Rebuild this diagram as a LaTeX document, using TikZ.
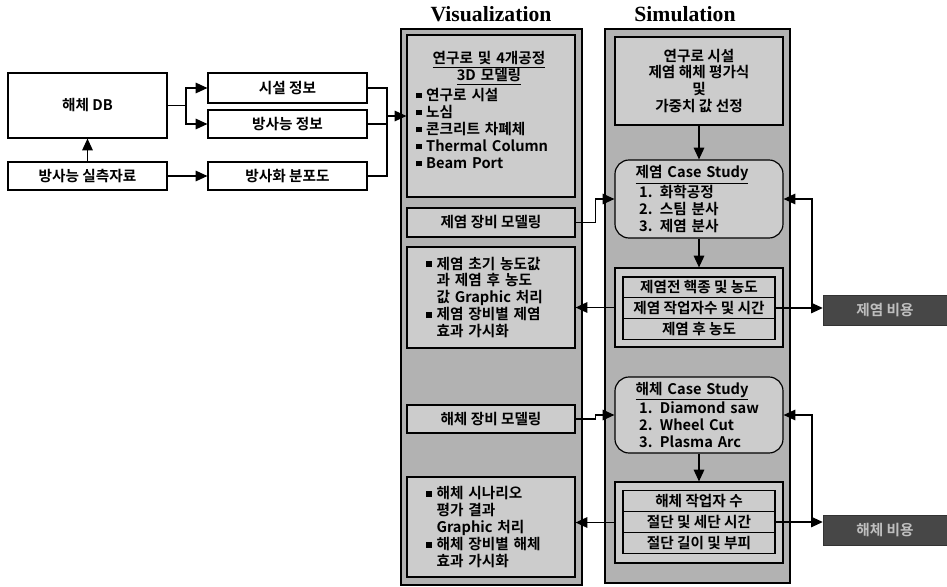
\documentclass[tikz,border=0pt]{standalone}
\usepackage{fontspec}
\newfontfamily\kr{Noto Sans CJK KR Bold}
\newfontfamily\titfont{Liberation Serif}
\usetikzlibrary{arrows.meta}
\newcommand\blt{\rule[1.5pt]{5pt}{5pt}\hspace{4pt}}

\begin{document}
\begin{tikzpicture}[x=0.03cm,y=-0.03cm,
    font=\kr\fontsize{12.5}{14.5}\selectfont,
    link/.style={line width=1pt},
    flow/.style={link,-{Triangle[length=10pt,width=9pt]}},
    plain/.style={draw,line width=1pt,fill=white,minimum width=4.77cm,inner sep=0pt},
    column/.style={draw,line width=1pt,fill=black!30},
    panel/.style={draw,line width=1pt,fill=black!20,minimum width=5.04cm,inner sep=0pt},
    casebox/.style={panel,rounded corners=12pt,text width=3.8cm,align=left},
    rowbox/.style={draw,line width=1pt,fill=black!20,minimum width=4.56cm,minimum height=0.63cm,inner sep=0pt},
    costbox/.style={draw=black!80,fill=black!72,text=black!25,minimum width=3.72cm,minimum height=0.9cm},
    title/.style={font=\titfont\bfseries\fontsize{18.5}{20}\selectfont}]
    \useasboundingbox (0,0) rectangle (947,587);

    % data sources
    \node[plain,minimum height=1.95cm] (db) at (87.5,105.5) {해체 DB};
    \node[plain,minimum height=0.84cm] (measured) at (87.5,176) {방사능 실측자료};
    \node[plain,minimum height=0.9cm] (facility) at (287.5,88) {시설 정보};
    \node[plain,minimum height=0.84cm] (radinfo) at (287.5,124) {방사능 정보};
    \node[plain,minimum height=0.84cm] (activation) at (287.5,176) {방사화 분포도};

    % visualization column
    \node[title] (viztitle) at (491,14) {Visualization};
    \node[column,minimum width=5.43cm,minimum height=16.68cm] (vizcol) at (491.5,307) {};
    \node[panel,minimum height=4.86cm] (model) at (491,116) {};
    \node[text width=4.4cm,align=left] (modeltext) at (489,110) {\makebox[\linewidth]{\underline{연구로 및 4개공정}}\\
        \makebox[\linewidth]{\underline{3D 모델링}}\\[2pt]
        \blt 연구로 시설\\\blt 노심\\\blt 콘크리트 차폐체\\\mbox{\blt Thermal Column}\\\blt Beam Port};
    \node[panel,minimum height=0.87cm] (decomodel) at (491,222.5) {제염 장비 모델링};
    \node[panel,minimum height=3.03cm,text width=3.9cm,align=left] (decoview) at (491,297.5)
        {\blt 제염 초기 농도값\\\hspace*{9pt}과 제염 후 농도\\\hspace*{9pt}값 Graphic 처리\\\blt 제염 장비별 제염\\\hspace*{9pt}효과 가시화};
    \node[panel,minimum height=0.84cm] (dismodel) at (491,419) {해체 장비 모델링};
    \node[panel,minimum height=3.0cm,text width=3.9cm,align=left] (disview) at (491,527)
        {\blt 해체 시나리오\\\hspace*{9pt}평가 결과\\\hspace*{9pt}Graphic 처리\\\blt 해체 장비별 해체\\\hspace*{9pt}효과 가시화};

    % simulation column
    \node[title] (simtitle) at (685,14) {Simulation};
    \node[column,minimum width=5.55cm,minimum height=16.62cm] (simcol) at (697.5,306) {};
    \node[panel,minimum height=2.64cm,align=center] (plan) at (699,81)
        {연구로 시설\\제염 해체 평가식\\및\\가중치 값 선정};
    \node[casebox,minimum height=2.34cm] (decocase) at (699,199)
        {\underline{제염 Case Study}\\\hspace*{3pt}1. 화학공정\\\hspace*{3pt}2. 스팀 분사\\\hspace*{3pt}3. 제염 분사};
    \node[panel,minimum height=2.37cm] (decores) at (699,307.5) {};
    \node[rowbox] (deco1) at (699,287.5) {제염전 핵종 및 농도};
    \node[rowbox] (deco2) at (699,308) {제염 작업자수 및 시간};
    \node[rowbox] (deco3) at (699,329) {제염 후 농도};
    \node[casebox,minimum height=2.28cm] (discase) at (699,415)
        {\underline{해체 Case Study}\\\hspace*{3pt}1. Diamond saw\\\hspace*{3pt}2. Wheel Cut\\\hspace*{3pt}3. Plasma Arc};
    \node[panel,minimum height=2.43cm] (disres) at (699,522.5) {};
    \node[rowbox] (dis1) at (699,501) {해체 작업자 수};
    \node[rowbox] (dis2) at (699,522) {절단 및 세단 시간};
    \node[rowbox] (dis3) at (699,543) {절단 길이 및 부피};

    % cost results
    \node[costbox] (decocost) at (885,310) {제염 비용};
    \node[costbox] (discost) at (885,530) {해체 비용};

    % connectors
    \coordinate (split) at (186,105.5);
    \draw[link] (db.east) -- (split);
    \draw[flow] (split) |- (facility.west);
    \draw[flow] (split) |- (radinfo.west);
    \draw[flow] (measured.east) -- (activation.west);
    \draw[flow] (measured.north) -- (db.south);
    \coordinate (merge) at (387,116);
    \draw[link] (facility.east) -| (merge) (radinfo.east) -| (merge) (activation.east) -| (merge);
    \draw[flow] (merge) -- (model.west);

    \draw[flow] (decomodel.east) -- ++(20,0) |- (decocase.west);
    \draw[flow] (plan.south) -- (decocase.north);
    \draw[flow] (decocase.south) -- (decores.north);
    \draw[flow] (decores.west) -- (decores.west -| decoview.east);
    \draw[flow] (deco2.east) -- (deco2.east -| decocost.west);
    \coordinate (decoturn) at (812,308);
    \draw[flow] (decoturn) |- (decocase.east);

    \draw[flow] (dismodel.east) -- ++(20,0) |- (discase.west);
    \draw[flow] (discase.south) -- (disres.north);
    \draw[flow] (disres.west) -- (disres.west -| disview.east);
    \draw[flow] (dis2.east) -- (dis2.east -| discost.west);
    \coordinate (disturn) at (812,522);
    \draw[flow] (disturn) |- (discase.east);
\end{tikzpicture}
\end{document}
